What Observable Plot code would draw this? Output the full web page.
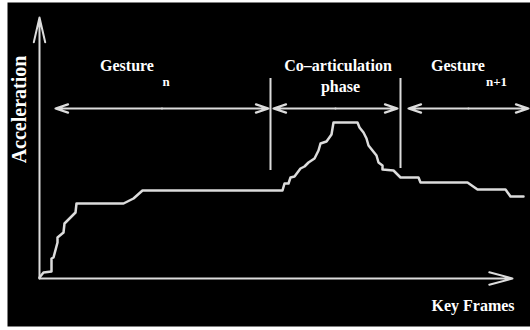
<!DOCTYPE html>
<html>
<head>
<meta charset="utf-8">
<script src="https://cdn.jsdelivr.net/npm/d3@7"></script>
<script src="https://cdn.jsdelivr.net/npm/@observablehq/plot@0.6"></script>
<style>
  html, body { margin: 0; padding: 0; background: #ffffff; }
  #chart svg { display: block; }
  #chart svg text { font-family: "Liberation Serif", "DejaVu Serif", serif; }
</style>
</head>
<body>
<div id="chart"></div>
<script>
// Key frame index and acceleration (arbitrary units)
const keyFrames = [0,4,12,12,14,18,18,24,25,36,37,84,94,103,243,245,249,251,255,261,265,269,275,279,281,287,292,294,318,320,324,327,329,333,337,339,343,343,354,359,361,379,381,428,438,466,471,484];
const acceleration = [1,6,7,20,21,36,41,46,55,66,75,75,80,88,88,95,95,101,102,110,112,116,120,128,135,137,144,156,156,151,146,140,133,128,123,116,113,109,108,103,101,101,96,96,89,89,82,82];

// Phase spans (key frames) and the separators between them
const phaseNames = ["Gesture n", "Co–articulation phase", "Gesture n+1"];
const phaseStart = [16, 234, 369];
const phaseEnd = [229, 358, 489];
const phaseLevel = 170;
const separatorFrames = [231, 361];
const separatorTop = [200, 200];
const separatorBottom = [108, 110];

// Axis extents
const xAxisEnd = 473;
const yAxisEnd = 261;

// Text labels
const labelText = ["Gesture", "Co–articulation", "phase", "Gesture", "Key Frames"];
const labelX = [87.5, 298.5, 301, 418.5, 433.5];
const labelY = [208, 208, 187, 208, -32];
const subText = ["n", "n+1"];
const subX = [126.5, 457];
const subY = [193, 193];
const yLabel = "Acceleration";

const curve = keyFrames.map((f, i) => ({f, a: acceleration[i]}));
const arrows = [];
phaseStart.forEach((s, i) => {
  const mid = (s + phaseEnd[i]) / 2;
  arrows.push({x1: mid, x2: s, y: phaseLevel});
  arrows.push({x1: mid, x2: phaseEnd[i], y: phaseLevel});
});
const seps = separatorFrames.map((f, i) => ({f, y1: separatorBottom[i], y2: separatorTop[i]}));
const labels = labelText.map((t, i) => ({t, x: labelX[i], y: labelY[i]}));
const subs = subText.map((t, i) => ({t, x: subX[i], y: subY[i]}));

const font = "'Liberation Serif', 'DejaVu Serif', serif";
const lineColor = "#dcdcdc";

const chart = Plot.plot({
  width: 530,
  height: 330,
  margin: 0,
  style: {background: "#ffffff", overflow: "visible", fontFamily: font},
  x: {domain: [-39, 491], axis: null},
  y: {domain: [-52, 278], axis: null},
  marks: [
    Plot.frame({fill: "#000000", stroke: null, insetLeft: 7, insetTop: 2, insetBottom: 4}),
    // axes
    Plot.arrow([{x1: 0, y1: 0, x2: xAxisEnd, y2: 0}], {x1: "x1", y1: "y1", x2: "x2", y2: "y2", stroke: lineColor, strokeWidth: 2, headLength: 18, headAngle: 30, bend: 0}),
    Plot.arrow([{x1: 0, y1: 0, x2: 0, y2: yAxisEnd}], {x1: "x1", y1: "y1", x2: "x2", y2: "y2", stroke: lineColor, strokeWidth: 2, headLength: 19, headAngle: 26, bend: 0}),
    // separators
    Plot.ruleX(seps, {x: "f", y1: "y1", y2: "y2", stroke: lineColor, strokeWidth: 2}),
    // phase double arrows
    Plot.arrow(arrows, {x1: "x1", x2: "x2", y1: "y", y2: "y", stroke: lineColor, strokeWidth: 2.2, headLength: 9, headAngle: 36, bend: 0}),
    // curve
    Plot.line(curve, {x: "f", y: "a", stroke: lineColor, strokeWidth: 2.5, strokeLinejoin: "round"}),
    // labels
    Plot.text(labels, {x: "x", y: "y", text: "t", fill: "#ffffff", fontFamily: font, fontWeight: "bold", fontSize: 16, textAnchor: "middle", lineAnchor: "bottom"}),
    Plot.text(subs, {x: "x", y: "y", text: "t", fill: "#ffffff", fontFamily: font, fontWeight: "bold", fontSize: 13, textAnchor: "middle", lineAnchor: "bottom"}),
    Plot.text([{t: yLabel, x: -20, y: 169}], {x: "x", y: "y", text: "t", fill: "#ffffff", fontFamily: font, fontWeight: "bold", fontSize: 20, rotate: -90, textAnchor: "middle", lineAnchor: "middle"})
  ]
});
document.getElementById("chart").appendChild(chart);
</script>
</body>
</html>
